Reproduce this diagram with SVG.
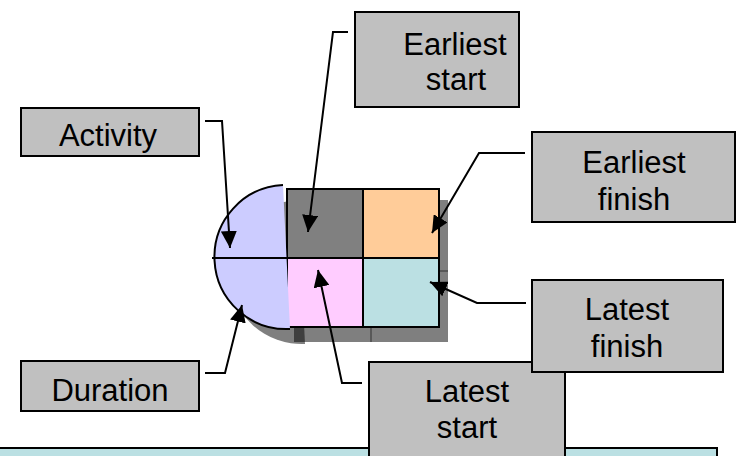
<svg xmlns="http://www.w3.org/2000/svg" width="737" height="456" viewBox="0 0 737 456">
  <style>
    .box { fill: #C0C0C0; stroke: #000; stroke-width: 2; }
    .lbl { font-family: "Liberation Sans", Arial, sans-serif; font-size: 31px; fill: #000; text-anchor: middle; }
    .conn { fill: none; stroke: #000; stroke-width: 2; marker-end: url(#arrow); }
    .cell { stroke: #000; stroke-width: 2; }
    .shade { fill: #000; fill-opacity: 0.5; }
  </style>
  <defs>
    <marker id="arrow" markerUnits="userSpaceOnUse" markerWidth="19" markerHeight="16" refX="17" refY="8" orient="auto">
      <path d="M0,0 L17,8 L0,16 Z" fill="#000"/>
    </marker>
  </defs>

  <rect width="737" height="456" fill="#FFFFFF"/>

  <!-- drop shadow of the activity node -->
  <g id="node-shadow">
    <path class="shade" d="M298,200 A72,72 0 0 0 305,344 Z"/>
    <rect class="shade" x="294" y="200" width="154" height="142"/>
    <path d="M371,327 V342 M440,271 H448" stroke="#000" stroke-opacity="0.3" stroke-width="2" fill="none"/>
  </g>

  <!-- activity node: grid of four times plus the half-disc -->
  <g id="activity-node">
    <rect class="cell" x="287" y="189" width="76" height="69" fill="#808080"/>
    <rect class="cell" x="363" y="189" width="76" height="69" fill="#FFCC99"/>
    <rect class="cell" x="287" y="258" width="76" height="69" fill="#FFCCFF"/>
    <rect class="cell" x="363" y="258" width="76" height="69" fill="#BBE0E3"/>
    <path d="M283,185 A72,72 0 0 0 290,329 Z" fill="#CCCCFF"/>
    <path d="M283,185 A72,72 0 0 0 290,329" fill="none" stroke="#000" stroke-width="2"/>
    <line x1="212" y1="258" x2="288" y2="258" stroke="#000" stroke-width="2"/>
  </g>

  <!-- bottom band -->
  <g id="band">
    <rect x="-2" y="448" width="719" height="20" fill="#BBE0E3" stroke="#000" stroke-width="2"/>
  </g>

  <!-- callout labels -->
  <g id="label-activity">
    <rect class="box" x="21" y="108" width="178" height="48"/>
    <text class="lbl" x="108" y="146">Activity</text>
  </g>
  <g id="label-duration">
    <rect class="box" x="21" y="361" width="178" height="50"/>
    <text class="lbl" x="110" y="401">Duration</text>
  </g>
  <g id="label-earliest-start">
    <rect class="box" x="355" y="12" width="164" height="95"/>
    <text class="lbl" x="455" y="55">Earliest</text>
    <text class="lbl" x="456" y="90">start</text>
  </g>
  <g id="label-earliest-finish">
    <rect class="box" x="532" y="132" width="203" height="90"/>
    <text class="lbl" x="634" y="173">Earliest</text>
    <text class="lbl" x="634" y="210">finish</text>
  </g>
  <g id="label-latest-start">
    <rect class="box" x="369" y="362" width="196" height="110"/>
    <text class="lbl" x="467" y="402">Latest</text>
    <text class="lbl" x="467" y="438">start</text>
  </g>
  <g id="label-latest-finish">
    <rect class="box" x="532" y="280" width="191" height="92"/>
    <text class="lbl" x="627" y="320">Latest</text>
    <text class="lbl" x="627" y="357">finish</text>
  </g>

  <!-- connectors -->
  <g id="connectors">
    <path class="conn" d="M205,121 H222 L230,248"/>
    <path class="conn" d="M348,32 H333 L308,232"/>
    <path class="conn" d="M525,153 H479 L432,233"/>
    <path class="conn" d="M526,303 H477 L430,282"/>
    <path class="conn" d="M205,373 H225 L242,305"/>
    <path class="conn" d="M362,383 H342 L318,270"/>
  </g>
</svg>
